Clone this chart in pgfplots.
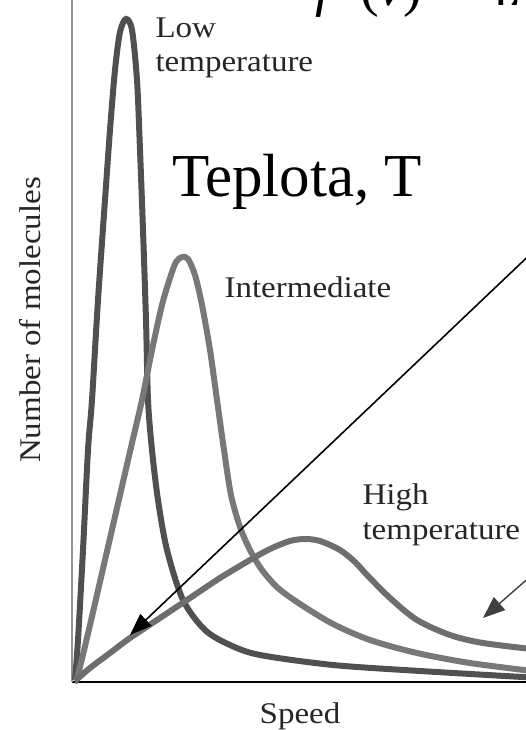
\documentclass[border=0pt]{standalone}
\usepackage{pgfplots}
\pgfplotsset{compat=1.18}
\usepackage{fontspec}
\setmainfont{Liberation Serif}
\newfontfamily\lab[FakeStretch=1.1]{Liberation Serif}
\usetikzlibrary{arrows.meta}
\definecolor{lowc}{HTML}{505050}
\definecolor{midc}{HTML}{787878}
\definecolor{highc}{HTML}{6E6E6E}
\definecolor{txt}{HTML}{262626}

\pgfplotstableread{
X Y
3 2
6 42
11 132
16 232
20 282
26 382
33 482
38 552
43 612
48 650
54 663
60 652
65 602
68 532
71 452
74 362
76 282
80 232
86 182
95 132
111 82
133 52
158 37
188 27
261 17
348 11
468 4
}\lowT

\pgfplotstableread{
X Y
3 1
6 7
18 57
33 122
48 187
60 239
70 282
80 332
90 377
98 404
104 420
110 425
116 423
123 407
130 377
138 332
145 282
152 232
159 187
168 155
178 132
190 112
206 94
228 78
261 58
298 42
345 29
398 19
468 10
}\midT

\pgfplotstableread{
X Y
3 1
18 14
38 29
58 44
88 64
118 84
148 104
178 122
198 133
218 141
233 143
248 141
268 132
283 120
295 107
318 84
345 62
378 47
411 39
468 32
}\highT

\begin{document}
\begin{tikzpicture}
\useasboundingbox (0pt,0pt) rectangle (526pt,730pt);
\clip (0pt,0pt) rectangle (526pt,730pt);
\begin{axis}[
  at={(72pt,48pt)}, anchor=origin,
  x=1pt, y=1pt,
  xmin=0, xmax=480, ymin=0, ymax=700,
  axis x line*=bottom, axis y line*=left,
  x axis line style={black, line width=2.6pt, -},
  y axis line style={black!42, line width=2pt, -},
  xtick=\empty, ytick=\empty,
  clip=false,
  xlabel={\lab\fontsize{30}{36}\selectfont Speed},
  xlabel style={at={(axis cs:228,-41)}, anchor=base, text=txt},
  ylabel={\lab\fontsize{30}{36}\selectfont Number of molecules},
  ylabel style={at={(axis cs:-42,362)}, anchor=center, rotate=0, text=txt},
]
\addplot[lowc, line width=6pt, smooth, tension=0.5] table[x=X,y=Y] {\lowT};
\addplot[midc, line width=6pt, smooth, tension=0.5] table[x=X,y=Y] {\midT};
\addplot[highc, line width=6pt, smooth, tension=0.5] table[x=X,y=Y] {\highT};

\draw[black, line width=1.6pt, -{Triangle[length=22pt,width=16pt]}] (axis cs:488,456) -- (axis cs:58,47);
\draw[black!75, line width=1.4pt, -{Triangle[length=22pt,width=17pt]}] (axis cs:468,114) -- (axis cs:411,64);

\node[anchor=base west, text=txt, font=\lab\fontsize{30}{36}\selectfont] at (axis cs:80,644) {Low};
\node[anchor=base west, text=txt, font=\lab\fontsize{30}{36}\selectfont] at (axis cs:80,610) {temperature};
\node[anchor=base west, text=txt, font=\lab\fontsize{30}{36}\selectfont] at (axis cs:149,384) {Intermediate};
\node[anchor=base west, text=txt, font=\lab\fontsize{30}{36}\selectfont] at (axis cs:287,177) {High};
\node[anchor=base west, text=txt, font=\lab\fontsize{30}{36}\selectfont] at (axis cs:287,142) {temperature};
\node[anchor=base west, inner sep=0pt, font=\fontsize{61}{70}\selectfont] at (axis cs:100,485) {Teplota, T};
\node[anchor=base west, inner sep=0pt, font=\fontsize{56}{64}\selectfont] at (axis cs:243,676) {\textit{f}};
\node[anchor=base west, inner sep=0pt, font=\fontsize{56}{64}\selectfont] at (axis cs:288,676) {(\textit{v})};
\node[anchor=base west, inner sep=0pt, font=\fontsize{56}{64}\selectfont] at (axis cs:350,676) {=};
\node[anchor=base west, inner sep=0pt, font=\fontsize{56}{64}\selectfont] at (axis cs:409,676) {4π};
\end{axis}
\end{tikzpicture}
\end{document}
